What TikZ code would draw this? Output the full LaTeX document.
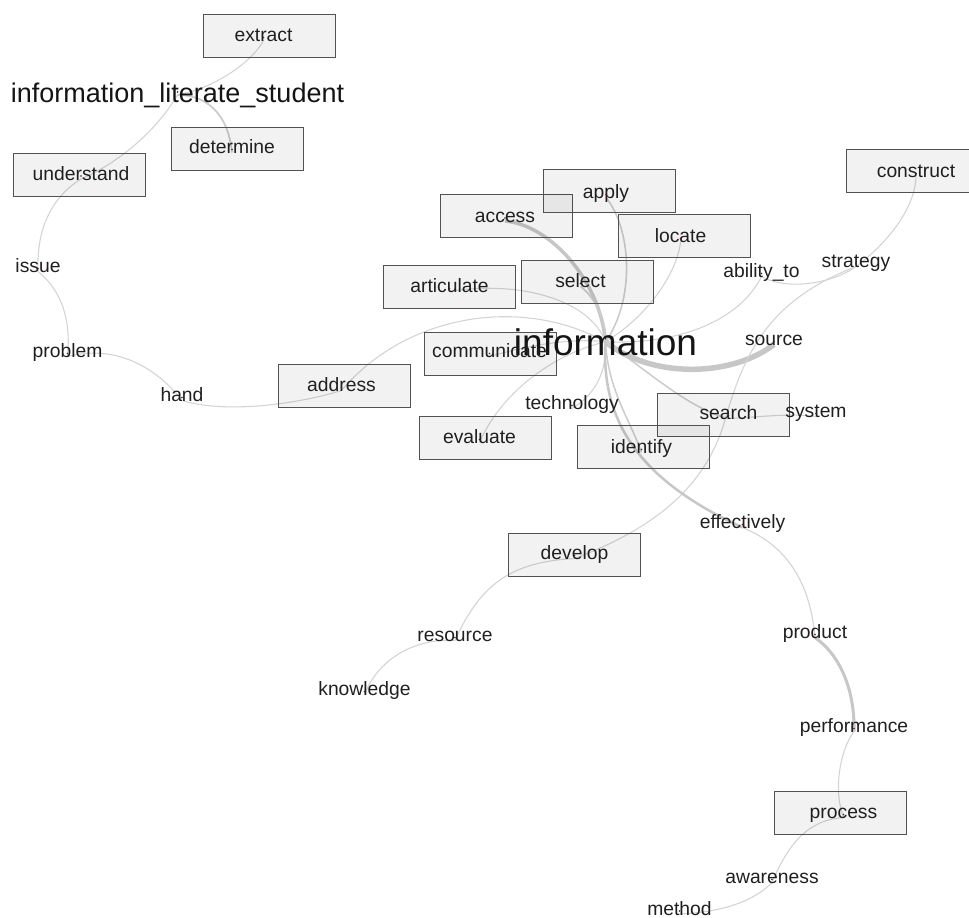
\documentclass[tikz,border=0pt]{standalone}
\usepackage{fontspec}
\setmainfont{Liberation Sans}
\pgfdeclarelayer{edges}
\pgfsetlayers{edges,main}
\definecolor{dotc}{RGB}{110,20,20}
\begin{document}
\begin{tikzpicture}[x=1pt,y=-1pt,
  box/.style={draw=black!68, line width=0.95pt, fill=black, fill opacity=0.05, draw opacity=1,
    minimum width=132pt, minimum height=43pt, inner sep=0pt},
  lbl/.style={inner sep=0pt, text height=0.2em, text depth=0pt, text=black!88, yshift=-1.5pt,
    font=\fontsize{19.3}{21}\selectfont},
  big/.style={inner sep=0pt, anchor=base, text=black!92},
  ed/.style={draw=black!17, line width=1.1pt},
  edm/.style={draw=black!20, line width=1.8pt},
  edt/.style={draw=black!22, line width=3.2pt},
  dot/.style={fill=dotc}]
\useasboundingbox (0,0) rectangle (969,918);
\clip (0,0) rectangle (969,918);

% boxes
\node[box] (b-extract) at (269,35.5) {};
\node[box] (b-determine) at (237,149) {};
\node[box] (b-understand) at (79.5,174.5) {};
\node[box] (b-access) at (506,216) {};
\node[box] (b-apply) at (609.5,190.5) {};
\node[box] (b-locate) at (684,235.5) {};
\node[box] (b-articulate) at (449.5,286.5) {};
\node[box] (b-select) at (587,281.5) {};
\node[box] (b-construct) at (912,170.5) {};
\node[box] (b-communicate) at (490.5,354) {};
\node[box] (b-address) at (344.5,385.5) {};
\node[box] (b-evaluate) at (485.5,438) {};
\node[box] (b-search) at (723,415) {};
\node[box] (b-identify) at (643.5,446.5) {};
\node[box] (b-develop) at (574.5,554.5) {};
\node[box] (b-process) at (840.5,813) {};

% labels
\node[big, font=\fontsize{27}{30}\selectfont] (ils) at (177.5,102) {information\_literate\_student};
\node[big, font=\fontsize{37}{40}\selectfont] (info) at (605.5,355) {information};
\node[lbl] (extract) at (263.5,39) {extract};
\node[lbl] (determine) at (232,151) {determine};
\node[lbl] (understand) at (81,177.5) {understand};
\node[lbl] (issue) at (38,270) {issue};
\node[lbl] (problem) at (67.5,355) {problem};
\node[lbl] (hand) at (182,399) {hand};
\node[lbl] (address) at (341.5,389) {address};
\node[lbl] (access) at (505,219.5) {access};
\node[lbl] (apply) at (606,196) {apply};
\node[lbl] (locate) at (680.5,240) {locate};
\node[lbl] (articulate) at (449.5,290) {articulate};
\node[lbl] (select) at (580.5,285) {select};
\node[lbl] (abilityto) at (761.5,275) {ability\_to};
\node[lbl] (strategy) at (856,265) {strategy};
\node[lbl] (construct) at (916,175) {construct};
\node[lbl] (communicate) at (489.5,355) {communicate};
\node[lbl] (evaluate) at (479.5,441) {evaluate};
\node[lbl] (technology) at (572,407) {technology};
\node[lbl] (source) at (774,343) {source};
\node[lbl] (search) at (728.5,417) {search};
\node[lbl] (system) at (816,415) {system};
\node[lbl] (identify) at (641.5,451) {identify};
\node[lbl] (effectively) at (742.5,526) {effectively};
\node[lbl] (develop) at (574.5,557) {develop};
\node[lbl] (resource) at (455,639) {resource};
\node[lbl] (knowledge) at (364.5,693) {knowledge};
\node[lbl] (product) at (815,636) {product};
\node[lbl] (performance) at (854,730) {performance};
\node[lbl] (process) at (843.5,816) {process};
\node[lbl] (awareness) at (772,881) {awareness};
\node[lbl] (method) at (679.5,912.5) {method};

\foreach \n in {ils,info,extract,determine,understand,issue,problem,hand,address,access,apply,locate,
  articulate,select,abilityto,strategy,construct,communicate,evaluate,technology,source,search,system,
  identify,effectively,develop,resource,knowledge,product,performance,process,awareness,method}
  \fill[dot] ([yshift=3pt]\n.center) circle (0.9pt);

\begin{pgfonlayer}{edges}
\draw[ed] (extract.center) .. controls (252,62) and (215,88) .. (ils.center);
\draw[edm] (ils.center) .. controls (205,95) and (228,112) .. (determine.center);
\draw[ed] (ils.center) .. controls (160,125) and (125,160) .. (understand.center);
\draw[ed] (understand.center) .. controls (55,195) and (36,225) .. (issue.center);
\draw[ed] (issue.center) .. controls (55,285) and (72,310) .. (problem.center);
\draw[ed] (problem.center) .. controls (120,343) and (160,372) .. (hand.center);
\draw[ed] (hand.center) .. controls (230,415) and (305,402) .. (address.center);
\draw[ed] (address.center) .. controls (405,315) and (520,295) .. (info.center);
\draw[edt, line width=3.5pt] (access.center) .. controls (550,225) and (600,280) .. (info.center);
\draw[edm, line width=1.6pt] (apply.center) .. controls (632,230) and (635,300) .. (info.center);
\draw[ed] (locate.center) .. controls (678,270) and (650,315) .. (info.center);
\draw[ed] (articulate.center) .. controls (520,280) and (590,300) .. (info.center);
\draw[edm] (select.center) .. controls (592,295) and (606,315) .. (info.center);
\draw[ed] (communicate.center) .. controls (530,345) and (570,338) .. (info.center);
\draw[ed] (evaluate.center) .. controls (500,395) and (550,355) .. (info.center);
\draw[ed] (technology.center) .. controls (595,395) and (607,372) .. (info.center);
\draw[edt, line width=5.5pt] (info.center) .. controls (650,378) and (730,378) .. (source.center);
\draw[ed] (abilityto.center) .. controls (740,320) and (680,345) .. (info.center);
\draw[ed] (abilityto.center) .. controls (785,290) and (830,285) .. (strategy.center);
\draw[ed] (strategy.center) .. controls (885,245) and (915,210) .. (construct.center);
\draw[ed] (develop.center) .. controls (650,530) and (705,490) .. (725,420)
  .. controls (745,350) and (770,300) .. (strategy.center);
\draw[ed] (develop.center) .. controls (510,562) and (480,585) .. (resource.center);
\draw[ed] (resource.center) .. controls (420,638) and (380,655) .. (knowledge.center);
\draw[edm, line width=1.5pt] (info.center) .. controls (640,365) and (690,410) .. (search.center);
\draw[ed] (search.center) .. controls (760,417) and (790,413) .. (system.center);
\draw[edm, line width=1.5pt] (info.center) .. controls (608,390) and (630,420) .. (identify.center);
\draw[edt, line width=2.5pt] (info.center) .. controls (600,430) and (650,485) .. (effectively.center);
\draw[ed] (effectively.center) .. controls (785,545) and (810,580) .. (product.center);
\draw[edt, line width=3pt] (product.center) .. controls (840,655) and (855,690) .. (performance.center);
\draw[ed] (performance.center) .. controls (840,750) and (833,790) .. (process.center);
\draw[ed] (process.center) .. controls (810,820) and (790,840) .. (awareness.center);
\draw[ed] (awareness.center) .. controls (755,900) and (725,912) .. (method.center);
\end{pgfonlayer}
\end{tikzpicture}
\end{document}
